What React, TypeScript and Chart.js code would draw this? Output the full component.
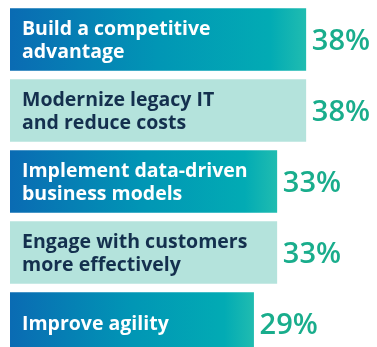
import React, { useEffect, useRef } from "react";
import { Chart, registerables } from "chart.js";

Chart.register(...registerables);

const categories: string[][] = [
  ["Build a competitive", "advantage"],
  ["Modernize legacy IT", "and reduce costs"],
  ["Implement data-driven", "business models"],
  ["Engage with customers", "more effectively"],
  ["Improve agility"],
];
const values: number[] = [38, 38, 33, 33, 29];
const valueLabels: string[] = ["38%", "38%", "33%", "33%", "29%"];
const darkBar: boolean[] = [true, false, true, false, true];
const AXIS_MIN = -13;
const AXIS_MAX = 48.55;

const LIGHT = "#b4e3dc";
const DARK_TEXT = "#14304e";
const PCT = "#19ad8c";

const labelPlugin = {
  id: "barLabels",
  afterDatasetsDraw(chart: any) {
    const ctx = chart.ctx;
    const meta = chart.getDatasetMeta(0);
    ctx.save();
    meta.data.forEach((bar: any, i: number) => {
      const lines = categories[i];
      const lh = 23;
      const cy = bar.y;
      ctx.font = "bold 19.5px 'Open Sans'";
      ctx.fillStyle = darkBar[i] ? "#ffffff" : DARK_TEXT;
      ctx.textAlign = "left";
      ctx.textBaseline = "alphabetic";
      const n = lines.length;
      lines.forEach((ln, k) => {
        const y = cy + (k - (n - 1) / 2) * lh + 6.5;
        ctx.fillText(ln, bar.base + 12, y);
      });
      ctx.font = "600 29px 'Open Sans'";
      ctx.fillStyle = PCT;
      ctx.fillText(valueLabels[i], bar.x + 6, cy + 10);
    });
    ctx.restore();
  },
};

export default function App() {
  const ref = useRef<HTMLCanvasElement>(null);
  useEffect(() => {
    if (!ref.current) return;
    const chart = new Chart(ref.current, {
      type: "bar",
      data: {
        labels: categories.map((c) => c.join(" ")),
        datasets: [
          {
            data: values,
            base: AXIS_MIN,
            backgroundColor: (c: any) => {
              const i = c.dataIndex;
              if (!darkBar[i]) return LIGHT;
              const chartObj = c.chart;
              const xs = chartObj.scales && chartObj.scales.x;
              if (!chartObj.chartArea || !xs) return "#0a8cb4";
              const x0 = xs.getPixelForValue(AXIS_MIN);
              const x1 = xs.getPixelForValue(values[i]);
              const g = chartObj.ctx.createLinearGradient(x0, 0, x1, 0);
              g.addColorStop(0, "#0a6bb3");
              g.addColorStop(0.5, "#0196b5");
              g.addColorStop(0.88, "#02abb4");
              g.addColorStop(1, "#20bcb0");
              return g;
            },
            borderWidth: 0,
            barThickness: 62,
          } as any,
        ],
      },
      options: {
        indexAxis: "y",
        responsive: false,
        animation: false,
        layout: { padding: { left: 10, right: 10, top: 4, bottom: 0 } },
        plugins: { legend: { display: false }, tooltip: { enabled: false } },
        scales: {
          x: { display: false, min: AXIS_MIN, max: AXIS_MAX },
          y: { display: false, offset: true },
        },
      },
      plugins: [labelPlugin],
    });
    return () => chart.destroy();
  }, []);
  return (
    <div
      style={{
        position: "absolute",
        left: 0,
        top: 0,
        width: 377,
        height: 347,
        overflow: "hidden",
        background: "#ffffff",
      }}
    >
      <canvas ref={ref} width={377} height={359} style={{ display: "block" }} />
    </div>
  );
}
